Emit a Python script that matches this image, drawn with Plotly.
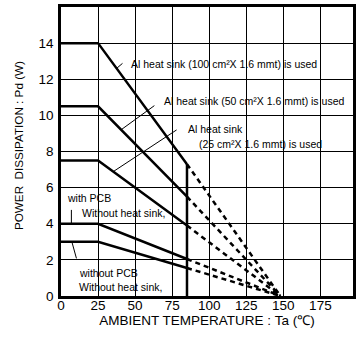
import plotly.graph_objects as go

# Data
series_names = ["Al 100cm2", "Al 50cm2", "Al 25cm2", "with PCB", "without PCB"]
flat_level = [14.0, 10.5, 7.5, 4.0, 3.0]       # Pd (W) below 25 C
level_at_85 = [7.3, 5.5, 3.9, 2.05, 1.55]      # Pd (W) at 85 C (end of solid part)
solid_x = [0, 25, 85]
dashed_x = [85, 148]
end_level = 0.0

x_ticks = [0, 25, 50, 75, 100, 125, 150, 175]
y_ticks = [0, 2, 4, 6, 8, 10, 12, 14]

fig = go.Figure()
for name, f, e in zip(series_names, flat_level, level_at_85):
    fig.add_trace(go.Scatter(x=solid_x, y=[f, f, e], mode="lines",
                             line=dict(color="black", width=2.5), name=name,
                             showlegend=False, hoverinfo="skip"))
    fig.add_trace(go.Scatter(x=dashed_x, y=[e, end_level], mode="lines",
                             line=dict(color="black", width=2.5, dash="5px,4px"),
                             showlegend=False, hoverinfo="skip"))

# thick vertical marker at 85 C, from the axis up to the highest curve
fig.add_trace(go.Scatter(x=[solid_x[-1], solid_x[-1]], y=[0, max(level_at_85)],
                         mode="lines", line=dict(color="black", width=2.5),
                         showlegend=False, hoverinfo="skip"))

afont = dict(family="Liberation Sans, Arial, sans-serif", size=10.5, color="black")
texts = [
    ("Al heat sink (100 cm²X 1.6 mmt) is used", 46, 12.85),
    ("Al heat sink (50 cm²X 1.6 mmt) is used", 68, 10.8),
    ("Al heat sink", 84.5, 9.25),
    ("(25 cm²X 1.6 mmt) is used", 91.5, 8.4),
    ("with PCB", 2.5, 5.4),
    ("Without heat sink,", 12.5, 4.6),
    ("without PCB", 11, 1.3),
    ("Without heat sink,", 11, 0.5),
]
for t, x, y in texts:
    fig.add_annotation(x=x, y=y, text=t, showarrow=False, xanchor="left",
                       yanchor="middle", font=afont)

leaders = [
    (37.5, 12.6, 42.5, 12.95),
    (40.5, 9.2, 64, 10.6),
    (35.5, 6.9, 79, 9.25),
    (7, 4.0, 7, 4.85),
    (7.5, 2.95, 10.7, 2.0),
]
for x0, y0, x1, y1 in leaders:
    fig.add_annotation(x=x0, y=y0, ax=x1, ay=y1, axref="x", ayref="y",
                       xref="x", yref="y", text="", showarrow=True,
                       arrowhead=0, arrowwidth=1, arrowcolor="black")

fig.add_annotation(xref="paper", yref="paper", x=-0.146, y=0.52,
                   text="POWER  DISSIPATION : Pd (W)", textangle=-90,
                   showarrow=False, xanchor="center", yanchor="middle",
                   font=dict(family="Liberation Sans, Arial, sans-serif", size=11.7, color="black"))

tfont = dict(family="Liberation Sans, Arial, sans-serif", size=13.5, color="black")
fig.update_xaxes(range=[0, 197], tickvals=x_ticks, ticktext=[str(v) for v in x_ticks],
                 showgrid=True, gridcolor="black", gridwidth=1,
                 showline=True, linecolor="black", linewidth=2.5, mirror=True,
                 ticks="", ticklabelstandoff=-5, tickfont=tfont, zeroline=False,
                 title=dict(text="AMBIENT TEMPERATURE : Ta (℃)", standoff=4,
                            font=dict(family="Liberation Sans, Arial, sans-serif", size=13.5, color="black")))
fig.update_yaxes(range=[0, 16], tickvals=y_ticks + [16], ticktext=[str(v) for v in y_ticks] + [""],
                 showgrid=True, gridcolor="black", gridwidth=1,
                 showline=True, linecolor="black", linewidth=2.5, mirror=True,
                 ticks="", ticklabelstandoff=2, tickfont=tfont, zeroline=False)

fig.update_layout(width=358, height=344, margin=dict(l=61, r=2, t=7, b=48),
                  plot_bgcolor="white", paper_bgcolor="white", showlegend=False)

fig.write_html("out.html")
